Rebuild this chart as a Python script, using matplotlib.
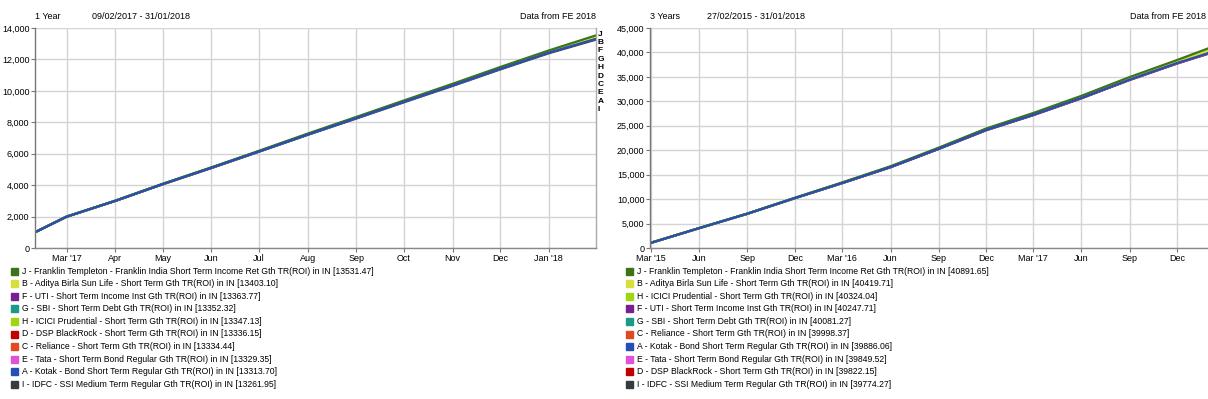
import datetime as dt

import matplotlib
matplotlib.use("Agg")
from matplotlib import pyplot as plt
import matplotlib.dates as mdates
from matplotlib.patches import Rectangle
from matplotlib.ticker import FuncFormatter

plt.rcParams['font.family'] = ['Liberation Sans', 'DejaVu Sans']

# --- 1 year chart (monthly readings) ---
dates_1y = ["2017-02-09", "2017-03-01", "2017-04-01", "2017-05-01", "2017-06-01", "2017-07-01",
            "2017-08-01", "2017-09-01", "2017-10-01", "2017-11-01", "2017-12-01", "2018-01-01",
            "2018-01-31"]
letters_1y = ["J", "B", "F", "G", "H", "D", "C", "E", "A", "I"]
names_1y = [
    "J - Franklin Templeton - Franklin India Short Term Income Ret Gth TR(ROI) in IN [13531.47]",
    "B - Aditya Birla Sun Life - Short Term Gth TR(ROI) in IN [13403.10]",
    "F - UTI - Short Term Income Inst Gth TR(ROI) in IN [13363.77]",
    "G - SBI - Short Term Debt Gth TR(ROI) in IN [13352.32]",
    "H - ICICI Prudential - Short Term Gth TR(ROI) in IN [13347.13]",
    "D - DSP BlackRock - Short Term Gth TR(ROI) in IN [13336.15]",
    "C - Reliance - Short Term Gth TR(ROI) in IN [13334.44]",
    "E - Tata - Short Term Bond Regular Gth TR(ROI) in IN [13329.35]",
    "A - Kotak - Bond Short Term Regular Gth TR(ROI) in IN [13313.70]",
    "I - IDFC - SSI Medium Term Regular Gth TR(ROI) in IN [13261.95]",
]
J_1y = [1000, 1995, 3015, 4085, 5135, 6180, 7280, 8345, 9385, 10450, 11510, 12570, 13531.47]
B_1y = [1000, 1993, 3008, 4072, 5118, 6158, 7245, 8300, 9335, 10390, 11445, 12490, 13403.10]
F_1y = [1000, 1992, 3005, 4068, 5112, 6150, 7234, 8288, 9322, 10375, 11428, 12470, 13363.77]
G_1y = [1000, 1992, 3004, 4066, 5110, 6147, 7230, 8284, 9318, 10370, 11422, 12464, 13352.32]
H_1y = [1000, 1993, 3006, 4068, 5111, 6148, 7231, 8284, 9317, 10369, 11420, 12462, 13347.13]
D_1y = [1000, 1991, 3003, 4064, 5106, 6142, 7224, 8276, 9308, 10359, 11409, 12450, 13336.15]
C_1y = [1000, 1991, 3002, 4063, 5105, 6141, 7222, 8275, 9307, 10357, 11407, 12448, 13334.44]
E_1y = [1000, 1991, 3002, 4062, 5104, 6139, 7220, 8272, 9303, 10353, 11402, 12443, 13329.35]
A_1y = [1000, 1990, 3000, 4060, 5100, 6134, 7212, 8263, 9293, 10342, 11390, 12430, 13313.70]
I_1y = [1000, 1988, 2995, 4052, 5090, 6120, 7195, 8242, 9268, 10313, 11355, 12390, 13261.95]
values_1y = [J_1y, B_1y, F_1y, G_1y, H_1y, D_1y, C_1y, E_1y, A_1y, I_1y]

# --- 3 year chart (quarterly readings) ---
dates_3y = ["2015-02-27", "2015-06-01", "2015-09-01", "2015-12-01", "2016-03-01", "2016-06-01",
            "2016-09-01", "2016-12-01", "2017-03-01", "2017-06-01", "2017-09-01", "2017-12-01",
            "2018-01-31"]
letters_3y = ["J", "B", "H", "F", "G", "C", "A", "E", "D", "I"]
names_3y = [
    "J - Franklin Templeton - Franklin India Short Term Income Ret Gth TR(ROI) in IN [40891.65]",
    "B - Aditya Birla Sun Life - Short Term Gth TR(ROI) in IN [40419.71]",
    "H - ICICI Prudential - Short Term Gth TR(ROI) in IN [40324.04]",
    "F - UTI - Short Term Income Inst Gth TR(ROI) in IN [40247.71]",
    "G - SBI - Short Term Debt Gth TR(ROI) in IN [40081.27]",
    "C - Reliance - Short Term Gth TR(ROI) in IN [39998.37]",
    "A - Kotak - Bond Short Term Regular Gth TR(ROI) in IN [39886.06]",
    "E - Tata - Short Term Bond Regular Gth TR(ROI) in IN [39849.52]",
    "D - DSP BlackRock - Short Term Gth TR(ROI) in IN [39822.15]",
    "I - IDFC - SSI Medium Term Regular Gth TR(ROI) in IN [39774.27]",
]
J_3y = [1000, 4075, 7040, 10270, 13420, 16720, 20520, 24450, 27620, 31130, 34960, 38450, 40891.65]
B_3y = [1000, 4068, 7025, 10245, 13385, 16660, 20440, 24330, 27470, 30950, 34750, 38150, 40419.71]
H_3y = [1000, 4066, 7020, 10238, 13372, 16640, 20410, 24290, 27420, 30890, 34680, 38080, 40324.04]
F_3y = [1000, 4064, 7015, 10230, 13360, 16620, 20380, 24255, 27380, 30840, 34620, 38010, 40247.71]
G_3y = [1000, 4062, 7008, 10215, 13330, 16590, 20345, 24205, 27315, 30770, 34540, 37910, 40081.27]
C_3y = [1000, 4061, 7004, 10208, 13318, 16570, 20320, 24175, 27280, 30730, 34495, 37870, 39998.37]
A_3y = [1000, 4060, 7000, 10200, 13300, 16550, 20300, 24150, 27250, 30700, 34450, 37850, 39886.06]
E_3y = [1000, 4059, 6998, 10196, 13294, 16540, 20285, 24130, 27225, 30670, 34415, 37800, 39849.52]
D_3y = [1000, 4058, 6996, 10192, 13288, 16530, 20270, 24110, 27200, 30645, 34385, 37770, 39822.15]
I_3y = [1000, 4057, 6993, 10186, 13280, 16515, 20250, 24085, 27170, 30610, 34345, 37720, 39774.27]
values_3y = [J_3y, B_3y, H_3y, F_3y, G_3y, C_3y, A_3y, E_3y, D_3y, I_3y]

couleurs = {"J": "#3e7418", "B": "#d6e03c", "F": "#78208f", "G": "#1c9a88", "H": "#9ed610",
            "D": "#c00000", "C": "#e04a20", "E": "#e052d6", "A": "#2450b4", "I": "#343c40"}


def to_dates(lst):
    return [dt.datetime.strptime(d, "%Y-%m-%d") for d in lst]


def graphique(fig, rect, dates, series, letters, ymax, ystep, ticks, ticklabels,
              periode, intervalle, names, leg_x):
    ax = fig.add_axes(rect)
    x = to_dates(dates)
    # A (blue) ends up on top, like the reference
    ordre = [i for i in range(len(letters)) if letters[i] != "A"][::-1] + [letters.index("A")]
    for i in ordre:
        ax.plot(x, series[i], color=couleurs[letters[i]], lw=1.6, solid_joinstyle="round")
    ax.set_xlim(x[0], x[-1])
    ax.set_ylim(0, ymax)
    ax.set_yticks(range(0, ymax + 1, ystep))
    ax.yaxis.set_major_formatter(FuncFormatter(lambda v, p: f"{int(v):,}"))
    ax.set_xticks(to_dates(ticks))
    ax.set_xticklabels(ticklabels)
    ax.grid(True, color="#d4d4d4", lw=1)
    ax.set_axisbelow(True)
    ax.tick_params(labelsize=6.5, length=3, width=0.8, color="#777777", pad=1)
    ax.spines["top"].set_visible(False)
    ax.spines["left"].set_color("#777777")
    ax.spines["bottom"].set_color("#888888")
    ax.spines["right"].set_color("#aaaaaa")
    for s in ax.spines.values():
        s.set_linewidth(1)

    x0, y0, w, h = rect
    fig.text(x0, 0.953, periode, fontsize=6.5)
    fig.text(x0 + 57 / 1208, 0.953, intervalle, fontsize=6.5)
    fig.text(min(x0 + w, 0.998), 0.953, "Data from FE 2018", fontsize=6.5, ha="right")

    # legend under the chart
    for k, (lettre, nom) in enumerate(zip(letters, names)):
        yc = 1 - (271 + k * 12.6) / 399
        fig.patches.append(Rectangle((leg_x, yc - 3.5 / 399), 7 / 1208, 7 / 399,
                                     transform=fig.transFigure, color=couleurs[lettre]))
        fig.text(leg_x + 11 / 1208, yc, nom, fontsize=6.2, va="center")
    return ax


fig = plt.figure(figsize=(12.08, 3.99), dpi=100)

ax1 = graphique(fig, [35 / 1208, 1 - 248 / 399, 561 / 1208, 220 / 399], dates_1y, values_1y,
                letters_1y, 14000, 2000,
                ["2017-03-01", "2017-04-01", "2017-05-01", "2017-06-01", "2017-07-01", "2017-08-01",
                 "2017-09-01", "2017-10-01", "2017-11-01", "2017-12-01", "2018-01-01"],
                ["Mar '17", "Apr", "May", "Jun", "Jul", "Aug", "Sep", "Oct", "Nov", "Dec", "Jan '18"],
                "1 Year", "09/02/2017 - 31/01/2018", names_1y, 11 / 1208)

# end-of-line letters beside the 1 year chart
for k, lettre in enumerate(letters_1y):
    fig.text(598 / 1208, 1 - (34 + k * 8.4) / 399, lettre, fontsize=6, va="center",
             fontweight="bold")

ax2 = graphique(fig, [650 / 1208, 1 - 248 / 399, 559 / 1208, 220 / 399], dates_3y, values_3y,
                letters_3y, 45000, 5000,
                ["2015-03-01", "2015-06-01", "2015-09-01", "2015-12-01", "2016-03-01", "2016-06-01",
                 "2016-09-01", "2016-12-01", "2017-03-01", "2017-06-01", "2017-09-01", "2017-12-01"],
                ["Mar '15", "Jun", "Sep", "Dec", "Mar '16", "Jun", "Sep", "Dec", "Mar '17", "Jun",
                 "Sep", "Dec"],
                "3 Years", "27/02/2015 - 31/01/2018", names_3y, 626 / 1208)

fig.savefig("out.png", dpi=100)
